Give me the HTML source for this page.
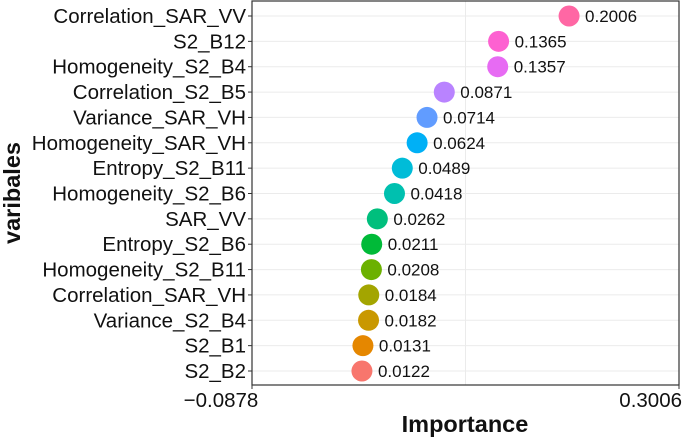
<!DOCTYPE html>
<html><head><meta charset="utf-8"><style>
html,body{margin:0;padding:0;background:#fff;}
svg{display:block;font-family:"Liberation Sans",Arial,sans-serif;}
</style></head><body>
<svg id="chart" width="685" height="438"></svg>
<script>
const categories=["Correlation_SAR_VV","S2_B12","Homogeneity_S2_B4","Correlation_S2_B5","Variance_SAR_VH","Homogeneity_SAR_VH","Entropy_S2_B11","Homogeneity_S2_B6","SAR_VV","Entropy_S2_B6","Homogeneity_S2_B11","Correlation_SAR_VH","Variance_S2_B4","S2_B1","S2_B2"];
const values=[0.2006,0.1365,0.1357,0.0871,0.0714,0.0624,0.0489,0.0418,0.0262,0.0211,0.0208,0.0184,0.0182,0.0131,0.0122];
const valueLabels=["0.2006","0.1365","0.1357","0.0871","0.0714","0.0624","0.0489","0.0418","0.0262","0.0211","0.0208","0.0184","0.0182","0.0131","0.0122"];
const colors=["#FF67A4","#FD61D1","#E76BF3","#B983FF","#619CFF","#00B0F6","#00BCD8","#00C0AF","#00BF7D","#00BA38","#6BB100","#A3A500","#C99800","#E58700","#F8766D"];
const xTicks=[-0.0878,0.3006];
const xTickLabels=["\u22120.0878","0.3006"];
const xMin=-0.0878,xMax=0.3006;
const L=252,R=679,T=1,B=385,y0=16,dy=(371-16)/14;
const NS="http://www.w3.org/2000/svg";
const svg=document.getElementById('chart');
function X(v){return L+(v-xMin)/(xMax-xMin)*(R-L);}
function Y(i){return y0+i*dy;}
function el(t,a,txt){const e=document.createElementNS(NS,t);for(const k in a)e.setAttribute(k,a[k]);if(txt!=null)e.textContent=txt;svg.appendChild(e);return e;}
let g=el('line',{x1:X((xMin+xMax)/2),x2:X((xMin+xMax)/2),y1:T,y2:B,stroke:'#ebebeb','stroke-width':1});


categories.forEach((c,i)=>{
 const gl=el('line',{x1:L,x2:R,y1:Y(i),y2:Y(i),stroke:'#ebebeb','stroke-width':1});
 
 
});
categories.forEach((c,i)=>{
 const tk=el('line',{x1:L-4,x2:L,y1:Y(i),y2:Y(i),stroke:'#333','stroke-width':1});
 
 
 const lb=el('text',{x:L-6,y:Y(i)+7,'text-anchor':'end','font-size':20.5,fill:'#111'},c);
 
 
 const pt=el('circle',{cx:X(values[i]),cy:Y(i),r:10.5,fill:colors[i]});
 
 
 const vl=el('text',{x:X(values[i])+16,y:Y(i)+6,'font-size':17,fill:'#111'},valueLabels[i]);
 
 
});
let fr=el('rect',{x:L,y:T,width:R-L,height:B-T,fill:'none',stroke:'#333','stroke-width':1.2});


xTicks.forEach((v,i)=>{
 const tk=el('line',{x1:X(v),x2:X(v),y1:B,y2:B+4,stroke:'#333','stroke-width':1});
 
 
 const anchor=i===0?'middle':'end';
 const lx=i===0?X(v)-31:X(v)+3;
 const lb=el('text',{x:lx,y:B+22,'text-anchor':anchor,'font-size':20.5,fill:'#111'},xTickLabels[i]);
 
 
});
let xt=el('text',{x:465,y:432,'text-anchor':'middle','font-size':23.5,'font-weight':'bold',fill:'#111'},'Importance');


let yt=el('text',{x:0,y:0,transform:'translate(20,193) rotate(-90)','text-anchor':'middle','font-size':23.5,'font-weight':'bold',fill:'#111'},'varibales');


</script>
</body></html>
